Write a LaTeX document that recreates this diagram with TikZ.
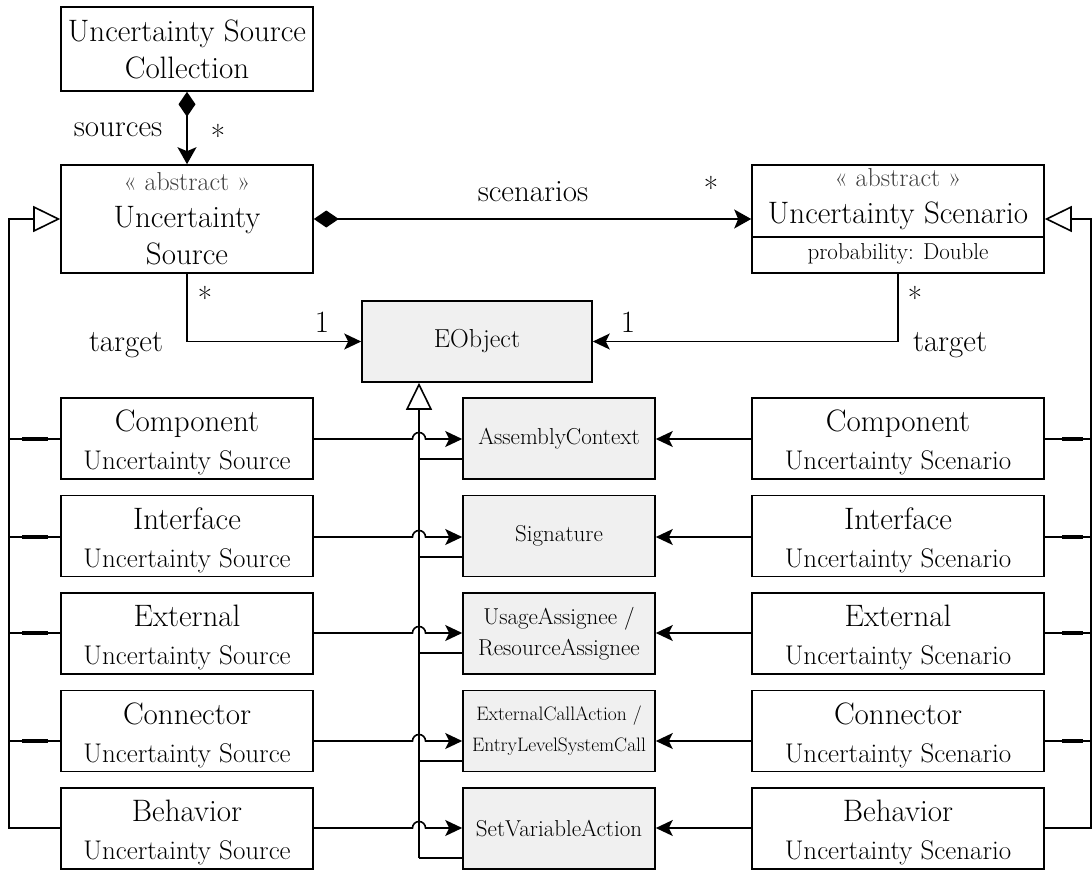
\documentclass[tikz,border=0pt]{standalone}
\usepackage{fontspec}
\usetikzlibrary{arrows.meta}
\definecolor{boxgray}{HTML}{F0F0F0}
\definecolor{stereo}{HTML}{404040}
\newcommand\BigF{\fontsize{31}{37}\selectfont}
\newcommand\RowF{\fontsize{27}{38}\selectfont}
\newcommand\MidF{\fontsize{23}{31}\selectfont}
\newcommand\SmlF{\fontsize{19.5}{31}\selectfont}
\newcommand\StF{\fontsize{26}{37}\selectfont\color{stereo}}
\newcommand\UpStrut{\rule{0pt}{30pt}}
\begin{document}
\begin{tikzpicture}[x=1pt,y=-1pt, line width=1.6pt,
 box/.style={draw, rectangle, align=center, inner sep=0pt, minimum width=252pt, minimum height=81pt, font=\RowF},
 mbox/.style={box, fill=boxgray, minimum width=192pt, font=\MidF},
 rbox/.style={box, minimum width=292pt},
 arr/.style={-{Stealth[length=17pt,width=16pt,inset=4pt]}},
 gen/.style={-{Triangle[open,length=27pt,width=26pt]}},
 seg/.style={line width=4pt},
 lbl/.style={inner sep=0pt, font=\BigF},
]
\useasboundingbox (0,0) rectangle (1092,870);

% top classes
\node[box, minimum height=84pt, font=\BigF] (coll) at (187,49) {Uncertainty Source\\Collection};
\node[box, minimum height=108pt, font=\BigF] (us) at (187,219) {{\StF « abstract »}\\Uncertainty\\Source};
\node[rbox, minimum height=108pt] (usc) at (898,219) {};
\node[inner sep=0pt, align=center, font=\BigF] (usct) at (898,199) {{\StF « abstract »}\\Uncertainty Scenario};
\node[inner sep=0pt, font=\fontsize{23}{26}\selectfont] (uscp) at (898,254) {probability: Double};
\draw ([yshift=37pt]usc.south west) -- ([yshift=37pt]usc.south east);
\node[mbox, minimum width=230pt, font=\fontsize{26}{30}\selectfont] (eo) at (477,341.5) {EObject};

% rows
\node[box] (s1) at (187,438.5) {{\BigF\UpStrut Component}\\Uncertainty Source};
\node[box] (s2) at (187,536) {{\BigF\UpStrut Interface}\\Uncertainty Source};
\node[box] (s3) at (187,633.5) {{\BigF\UpStrut External}\\Uncertainty Source};
\node[box] (s4) at (187,731) {{\BigF\UpStrut Connector}\\Uncertainty Source};
\node[box] (s5) at (187,828.5) {{\BigF\UpStrut Behavior}\\Uncertainty Source};

\node[mbox] (m1) at (559,438.5) {AssemblyContext};
\node[mbox] (m2) at (559,536) {Signature};
\node[mbox] (m3) at (559,633.5) {UsageAssignee /\\ResourceAssignee};
\node[mbox, font=\SmlF] (m4) at (559,731) {ExternalCallAction /\\EntryLevelSystemCall};
\node[mbox] (m5) at (559,828.5) {SetVariableAction};

\node[rbox] (r1) at (898,438.5) {{\BigF\UpStrut Component}\\Uncertainty Scenario};
\node[rbox] (r2) at (898,536) {{\BigF\UpStrut Interface}\\Uncertainty Scenario};
\node[rbox] (r3) at (898,633.5) {{\BigF\UpStrut External}\\Uncertainty Scenario};
\node[rbox] (r4) at (898,731) {{\BigF\UpStrut Connector}\\Uncertainty Scenario};
\node[rbox] (r5) at (898,828.5) {{\BigF\UpStrut Behavior}\\Uncertainty Scenario};

% helper coordinates
\coordinate (lvx) at (9,0);
\coordinate (rvx) at (1091,0);
\coordinate (h1) at (419,439);
\coordinate (h2) at (419,537);
\coordinate (h3) at (419,633);
\coordinate (h4) at (419,741);
\coordinate (h5) at (419,828);
\coordinate (l1) at (419,459);
\coordinate (l2) at (419,557);
\coordinate (l3) at (419,653);
\coordinate (l4) at (419,761);
\coordinate (l5) at (419,858);

% top connectors
\draw[{Diamond[length=25pt,width=17pt]}-{Stealth[length=17pt,width=19pt,inset=4pt]}] (coll.south) -- (us.north);
\node[lbl] (lsrc) at (118,130) {sources};
\node[lbl] (msrc) at (218,136) {*};
\draw[{Diamond[length=25pt,width=17pt]}-{Stealth[length=17pt,width=19pt,inset=4pt]}] (us.east) -- (usc.west);
\node[lbl] (lscn) at (533,192) {scenarios};
\node[lbl] (mscn) at (711,188) {*};
\draw[arr] (us.south) |- (eo.west);
\node[lbl] (mt1) at (205,298) {*};
\node[lbl] (ot1) at (322,322) {1};
\node[lbl] (lt1) at (126,345) {target};
\draw[arr] (usc.south) |- (eo.east);
\node[lbl] (mt2) at (915,298) {*};
\node[lbl] (ot2) at (628,322) {1};
\node[lbl] (lt2) at (950,345) {target};

% generalisation to EObject
\draw[gen] (l5) -- (l5 |- eo.south);
\foreach \i in {1,...,5}{
  \draw (l\i) -- (l\i -| m\i.west);
  \draw[arr] (h\i -| s\i.east) -- ([xshift=-6.5pt]h\i) arc[start angle=180,end angle=0,radius=6.5pt] -- (h\i -| m\i.west);
  \draw[arr] (h\i -| r\i.west) -- (h\i -| m\i.east);
}

% generalisation on the left
\draw[gen] (h5 -| s5.west) -- (h5 -| lvx) |- (us.west);
\foreach \i in {1,...,4}{
  \draw (h\i -| s\i.west) -- (h\i -| lvx);
  \draw[seg] ([xshift=13pt]h\i -| lvx) -- ([xshift=39pt]h\i -| lvx);
}
% generalisation on the right
\draw[gen] (h5 -| r5.east) -- (h5 -| rvx) |- (usc.east);
\foreach \i in {1,...,4}{
  \draw (h\i -| r\i.east) -- (h\i -| rvx);
  \draw[seg] ([xshift=-29pt]h\i -| rvx) -- ([xshift=-8pt]h\i -| rvx);
}
\end{tikzpicture}
\end{document}
